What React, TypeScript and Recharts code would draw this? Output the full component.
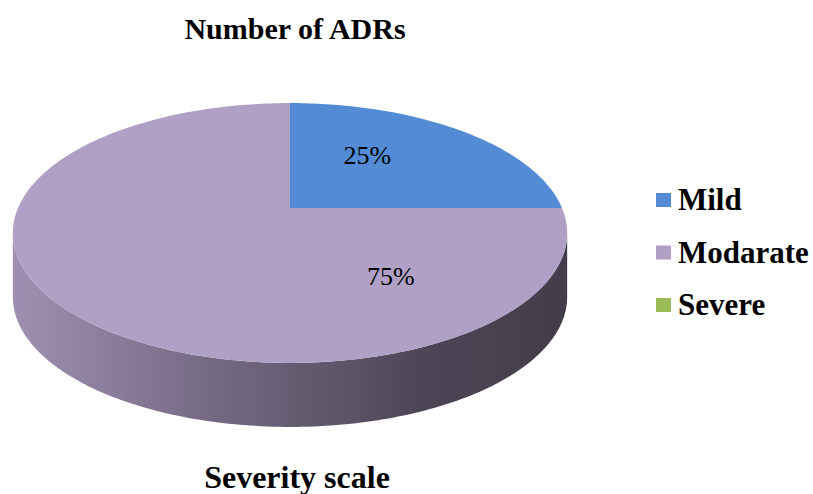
import React from "react";
import { PieChart, Pie, Cell } from "recharts";

const CATEGORIES = ["Mild", "Modarate", "Severe"];
const ADR_SHARE = [25, 75, 0];
const COLORS = ["#538cd5", "#b0a0c6", "#9bbb59"];
const TITLE = "Number of ADRs";
const AXIS_TITLE = "Severity scale";

const data = CATEGORIES.map((name, i) => ({ name, value: ADR_SHARE[i] }));

const W = 813;
const H = 494;
const FONT = "Liberation Serif";

// fake 3D: squash + a little perspective, front edge extruded downwards
const TILT = 0.46;
const PERSP = -0.1923;
const DEPTH = 64;
const EDGE_R = (Math.asin(PERSP) * 180) / Math.PI; // right silhouette angle
const EDGE_L = -180 - EDGE_R;

function project(angle: number, frac: number, cx: number, cy: number, r: number) {
  const t = (angle * Math.PI) / 180;
  const u = Math.cos(t) * frac;
  const v = -Math.sin(t) * frac;
  const d = 1 + PERSP * v;
  return [cx + (r * u) / d, cy + (r * TILT * v) / d];
}

function arc(a0: number, a1: number, cx: number, cy: number, r: number) {
  const n = Math.max(2, Math.ceil(Math.abs(a1 - a0)));
  const pts: number[][] = [];
  for (let i = 0; i <= n; i++) pts.push(project(a0 + ((a1 - a0) * i) / n, 1, cx, cy, r));
  return pts;
}

function shade(hex: string, k: number) {
  const n = parseInt(hex.slice(1), 16);
  const c = [(n >> 16) & 255, (n >> 8) & 255, n & 255].map((x) => Math.round(x * k));
  return `rgb(${c.join(",")})`;
}

function SideShape(props: any) {
  const { cx, cy, outerRadius: r, startAngle, endAngle, fill } = props;
  const hi0 = Math.max(startAngle, endAngle);
  const lo0 = Math.min(startAngle, endAngle);
  const gid = `side${fill.replace("#", "")}`;
  const x0 = project(EDGE_L, 1, cx, cy, r)[0];
  const x1 = project(EDGE_R, 1, cx, cy, r)[0];
  const paths: string[] = [];
  for (const k of [-360, 0, 360]) {
    const lo = Math.max(lo0, EDGE_L + k);
    const hi = Math.min(hi0, EDGE_R + k);
    if (hi - lo < 0.01) continue;
    const top = arc(hi, lo, cx, cy, r);
    const bottom = arc(lo, hi, cx, cy, r).map(([x, y]) => [x, y + DEPTH]);
    const pts = [...top, ...bottom];
    paths.push("M" + pts.map(([x, y]) => `${x.toFixed(2)},${y.toFixed(2)}`).join("L") + "Z");
  }
  if (!paths.length) return <g />;
  return (
    <g>
      <defs>
        <linearGradient id={gid} gradientUnits="userSpaceOnUse" x1={x0} y1={0} x2={x1} y2={0}>
          <stop offset="0%" stopColor={shade(fill, 0.9)} />
          <stop offset="35%" stopColor={shade(fill, 0.67)} />
          <stop offset="55%" stopColor={shade(fill, 0.55)} />
          <stop offset="75%" stopColor={shade(fill, 0.43)} />
          <stop offset="100%" stopColor={shade(fill, 0.38)} />
        </linearGradient>
      </defs>
      {paths.map((d, i) => (
        <path key={i} d={d} fill={`url(#${gid})`} stroke="none" />
      ))}
    </g>
  );
}

function TopShape(props: any) {
  const { cx, cy, outerRadius: r, startAngle, endAngle, fill } = props;
  if (Math.abs(endAngle - startAngle) < 0.01) return <g />;
  const pts = [[cx, cy], ...arc(startAngle, endAngle, cx, cy, r)];
  const d = "M" + pts.map(([x, y]) => `${x.toFixed(2)},${y.toFixed(2)}`).join("L") + "Z";
  return <path d={d} fill={fill} stroke="none" />;
}

// where the percentages sit inside each slice (angle, fraction of radius)
const LABEL_SPOTS = [
  { angle: 56, frac: 0.554 },
  { angle: -56, frac: 0.6 },
  { angle: -90, frac: 0.6 },
];

function renderLabel(props: any) {
  const { cx, cy, outerRadius, percent, index } = props;
  if (!percent) return null;
  const spot = LABEL_SPOTS[index] ?? LABEL_SPOTS[1];
  const [x, y] = project(spot.angle, spot.frac, cx, cy, outerRadius);
  return (
    <text x={x} y={y} textAnchor="middle" dominantBaseline="central" fill="#000" fontSize={26} fontFamily={FONT}>
      {`${Math.round(percent * 100)}%`}
    </text>
  );
}

export default function App() {
  return (
    <div style={{ position: "relative", width: W, height: H, background: "#fff" }}>
      <style>{"body{margin:0}"}</style>
      <PieChart width={W} height={H} margin={{ top: 0, right: 0, bottom: 0, left: 0 }}>
        <Pie
          data={data}
          dataKey="value"
          nameKey="name"
          cx={290}
          cy={208}
          outerRadius={272}
          startAngle={90}
          endAngle={-270}
          stroke="none"
          legendType="none"
          isAnimationActive={false}
          shape={SideShape}
          inactiveShape={SideShape}
          activeShape={SideShape}
        >
          {data.map((d, i) => (
            <Cell key={d.name} fill={COLORS[i]} />
          ))}
        </Pie>
        <Pie
          data={data}
          dataKey="value"
          nameKey="name"
          cx={290}
          cy={208}
          outerRadius={272}
          startAngle={90}
          endAngle={-270}
          stroke="none"
          isAnimationActive={false}
          label={renderLabel}
          labelLine={false}
          shape={TopShape}
          inactiveShape={TopShape}
          activeShape={TopShape}
        >
          {data.map((d, i) => (
            <Cell key={d.name} fill={COLORS[i]} />
          ))}
        </Pie>
      </PieChart>
      <svg width={W} height={H} style={{ position: "absolute", left: 0, top: 0, pointerEvents: "none" }}>
        <text x={295} y={39} textAnchor="middle" fontSize={30} fontWeight="bold" fontFamily={FONT} fill="#000">
          {TITLE}
        </text>
        <text x={297} y={488} textAnchor="middle" fontSize={32} fontWeight="bold" fontFamily={FONT} fill="#000">
          {AXIS_TITLE}
        </text>
        {CATEGORIES.map((name, i) => {
          const yc = 200 + i * 52.5;
          return (
            <g key={name}>
              <rect x={656} y={yc - 7} width={15} height={14} fill={COLORS[i]} />
              <text x={678} y={yc + 10} fontSize={31} fontWeight="bold" fontFamily={FONT} fill="#000">
                {name}
              </text>
            </g>
          );
        })}
      </svg>
    </div>
  );
}
